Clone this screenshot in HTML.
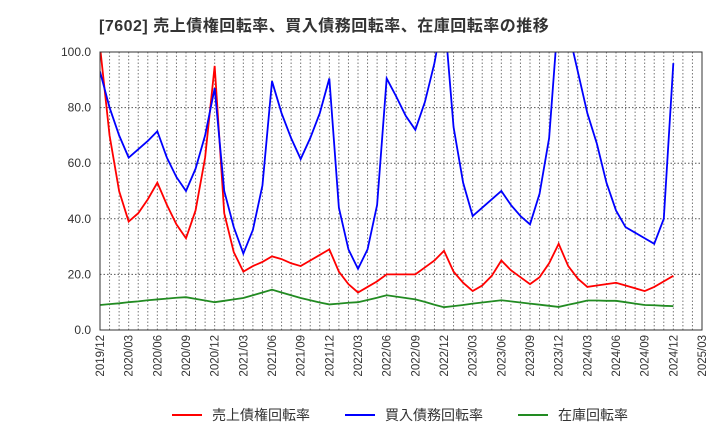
<!DOCTYPE html>
<html><head><meta charset="utf-8"><style>
body{margin:0;background:#fff;font-family:"Liberation Sans","Noto Sans CJK JP",sans-serif}
</style></head><body>
<svg id="c" width="720" height="440" xmlns="http://www.w3.org/2000/svg">
<text x="99" y="31" font-size="16" font-weight="bold" fill="#333" letter-spacing="0.5" font-family="Liberation Sans, Noto Sans CJK JP, sans-serif">[7602]  売上債権回転率、買入債務回転率、在庫回転率の推移</text>
</svg>
<script>
const xTicks=["2019/12","2020/03","2020/06","2020/09","2020/12","2021/03","2021/06","2021/09","2021/12","2022/03","2022/06","2022/09","2022/12","2023/03","2023/06","2023/09","2023/12","2024/03","2024/06","2024/09","2024/12","2025/03"];
const yTicks=[0,20,40,60,80,100];
const receivables=[102,70,50,39,42,47,53,45,38,33,43,62,95,42,28,21,23,24.5,26.5,25.5,24,23,25,27,29,21,16.5,13.5,15.5,17.5,20,20,20,20,22.5,25,28.5,21,17,14,16,19.5,25,21.5,19,16.5,19,24,31,23,18.5,15.5,16,16.5,17,16,15,14,15.5,17.5,19.5];
const payables=[93,80,70,62,65,68,71.5,62,55,50,58,70,87,50,37,27.5,36,52,89.5,78,69,61.5,69,78,90.5,44,29,22,29,45,90.5,84,77,72,82,96,115,73,53,41,44,47,50,45,41,38,49,69,115,108,93,78,67,53,43,37,35,33,31,40,96];
const inventory=[9,9.3,9.6,10,10.3,10.7,11,11.3,11.6,11.8,11.2,10.6,10,10.5,11,11.5,12.5,13.5,14.5,13.5,12.5,11.5,10.7,9.9,9.2,9.5,9.8,10,10.8,11.6,12.5,12,11.5,11,10.1,9.1,8.2,8.6,9,9.5,9.9,10.3,10.7,10.3,9.9,9.5,9.1,8.7,8.3,9.1,9.8,10.6,10.6,10.5,10.5,10,9.5,9,8.9,8.7,8.6];
const X0=100,X1=702,Y0=330,Y1=52;
const xs=i=>X0+(X1-X0)*i/63;
const ys=v=>Y0-(Y0-Y1)*v/100;
const svg=document.getElementById('c');
const NS="http://www.w3.org/2000/svg";
function mk(t,a){const e=document.createElementNS(NS,t);for(const k in a)e.setAttribute(k,a[k]);svg.appendChild(e);return e;}
for(let i=1;i<63;i++){const l=mk('line',{x1:xs(i),x2:xs(i),y1:Y1,y2:Y0,stroke:'#777','stroke-dasharray':'1.5,2','stroke-width':1});

}
yTicks.forEach(v=>{
 if(v>0&&v<100){const l=mk('line',{x1:X0,x2:X1,y1:ys(v),y2:ys(v),stroke:'#555','stroke-dasharray':'1.5,2','stroke-width':1});
 
 }
 const t=mk('text',{x:91,y:ys(v)+4,'text-anchor':'end','font-size':12,fill:'#333'});t.textContent=v.toFixed(1);
 
 
});
xTicks.forEach((s,k)=>{const x=xs(k*3);
 const t=mk('text',{x:0,y:0,transform:`translate(${x+4},335) rotate(-90)`,'text-anchor':'end','font-size':11.5,fill:'#333'});t.textContent=s;
 
 });
const defs=mk('defs',{});const cp=document.createElementNS(NS,'clipPath');cp.setAttribute('id','pc');defs.appendChild(cp);
const r=document.createElementNS(NS,'rect');r.setAttribute('x',X0);r.setAttribute('y',Y1);r.setAttribute('width',X1-X0);r.setAttribute('height',Y0-Y1);cp.appendChild(r);
function series(d,c,name){const p=mk('polyline',{points:d.map((v,i)=>xs(i)+','+ys(v)).join(' '),fill:'none',stroke:c,'stroke-width':1.8,'clip-path':'url(#pc)'});
 
 }
series(inventory,'#228B22','inventory-turnover-line');
series(receivables,'#ff0000','receivables-turnover-line');
series(payables,'#0000ff','payables-turnover-line');
const fr=mk('rect',{x:X0,y:Y1,width:X1-X0,height:Y0-Y1,fill:'none',stroke:'#333','stroke-width':1});


const leg=[['売上債権回転率','#ff0000',172],['買入債務回転率','#0000ff',345],['在庫回転率','#228B22',518]];
leg.forEach(([s,c,x])=>{const l=mk('line',{x1:x,x2:x+30,y1:415,y2:415,stroke:c,'stroke-width':2});
 
 
 const t=mk('text',{x:x+40,y:420,'font-size':14,fill:'#333'});t.textContent=s;
 
 });
</script>
</body></html>
